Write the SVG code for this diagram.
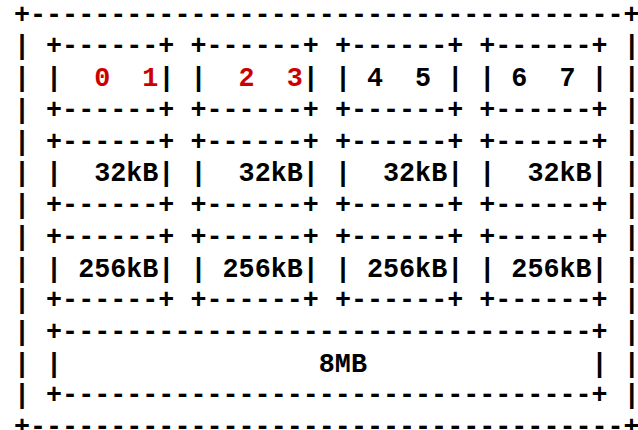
<svg xmlns="http://www.w3.org/2000/svg" width="638" height="430" viewBox="0 0 638 430">
<style>
text{font-family:"Liberation Mono","Courier New",monospace;font-size:26.74px;font-weight:bold;fill:#000;white-space:pre}
.r{fill:#cc0000}
</style>
<rect width="638" height="430" fill="#fff"/>
<g transform="translate(0,1.2)">
<g id="outer">
<text x="13.98" y="21.5">+-------------------------------------+</text>
<text x="13.98" y="53.23">|</text><text x="623.69" y="53.23">|</text>
<text x="13.98" y="84.96">|</text><text x="623.69" y="84.96">|</text>
<text x="13.98" y="116.69">|</text><text x="623.69" y="116.69">|</text>
<text x="13.98" y="148.42">|</text><text x="623.69" y="148.42">|</text>
<text x="13.98" y="180.15">|</text><text x="623.69" y="180.15">|</text>
<text x="13.98" y="211.88">|</text><text x="623.69" y="211.88">|</text>
<text x="13.98" y="243.61">|</text><text x="623.69" y="243.61">|</text>
<text x="13.98" y="275.34">|</text><text x="623.69" y="275.34">|</text>
<text x="13.98" y="307.07">|</text><text x="623.69" y="307.07">|</text>
<text x="13.98" y="338.8">|</text><text x="623.69" y="338.8">|</text>
<text x="13.98" y="370.53">|</text><text x="623.69" y="370.53">|</text>
<text x="13.98" y="402.26">|</text><text x="623.69" y="402.26">|</text>
<text x="13.98" y="433.99">+-------------------------------------+</text>
</g>
<g id="core01">
<text x="46.07" y="53.23">+------+</text>
<text x="46.07" y="84.96">|  <tspan class="r">0</tspan>  <tspan class="r">1</tspan>|</text>
<text x="46.07" y="116.69">+------+</text>
</g>
<g id="core23">
<text x="190.48" y="53.23">+------+</text>
<text x="190.48" y="84.96">|  <tspan class="r">2</tspan>  <tspan class="r">3</tspan>|</text>
<text x="190.48" y="116.69">+------+</text>
</g>
<g id="core45">
<text x="334.88" y="53.23">+------+</text>
<text x="334.88" y="84.96">| 4  5 |</text>
<text x="334.88" y="116.69">+------+</text>
</g>
<g id="core67">
<text x="479.29" y="53.23">+------+</text>
<text x="479.29" y="84.96">| 6  7 |</text>
<text x="479.29" y="116.69">+------+</text>
</g>
<g id="l1a">
<text x="46.07" y="148.42">+------+</text>
<text x="46.07" y="180.15">|  32kB|</text>
<text x="46.07" y="211.88">+------+</text>
</g>
<g id="l1b">
<text x="190.48" y="148.42">+------+</text>
<text x="190.48" y="180.15">|  32kB|</text>
<text x="190.48" y="211.88">+------+</text>
</g>
<g id="l1c">
<text x="334.88" y="148.42">+------+</text>
<text x="334.88" y="180.15">|  32kB|</text>
<text x="334.88" y="211.88">+------+</text>
</g>
<g id="l1d">
<text x="479.29" y="148.42">+------+</text>
<text x="479.29" y="180.15">|  32kB|</text>
<text x="479.29" y="211.88">+------+</text>
</g>
<g id="l2a">
<text x="46.07" y="243.61">+------+</text>
<text x="46.07" y="275.34">| 256kB|</text>
<text x="46.07" y="307.07">+------+</text>
</g>
<g id="l2b">
<text x="190.48" y="243.61">+------+</text>
<text x="190.48" y="275.34">| 256kB|</text>
<text x="190.48" y="307.07">+------+</text>
</g>
<g id="l2c">
<text x="334.88" y="243.61">+------+</text>
<text x="334.88" y="275.34">| 256kB|</text>
<text x="334.88" y="307.07">+------+</text>
</g>
<g id="l2d">
<text x="479.29" y="243.61">+------+</text>
<text x="479.29" y="275.34">| 256kB|</text>
<text x="479.29" y="307.07">+------+</text>
</g>
<g id="l3">
<text x="46.07" y="338.8">+---------------------------------+</text>
<text x="46.07" y="370.53">|                8MB              |</text>
<text x="46.07" y="402.26">+---------------------------------+</text>
</g>
</g>
<g id="connectors"></g>
</svg>
